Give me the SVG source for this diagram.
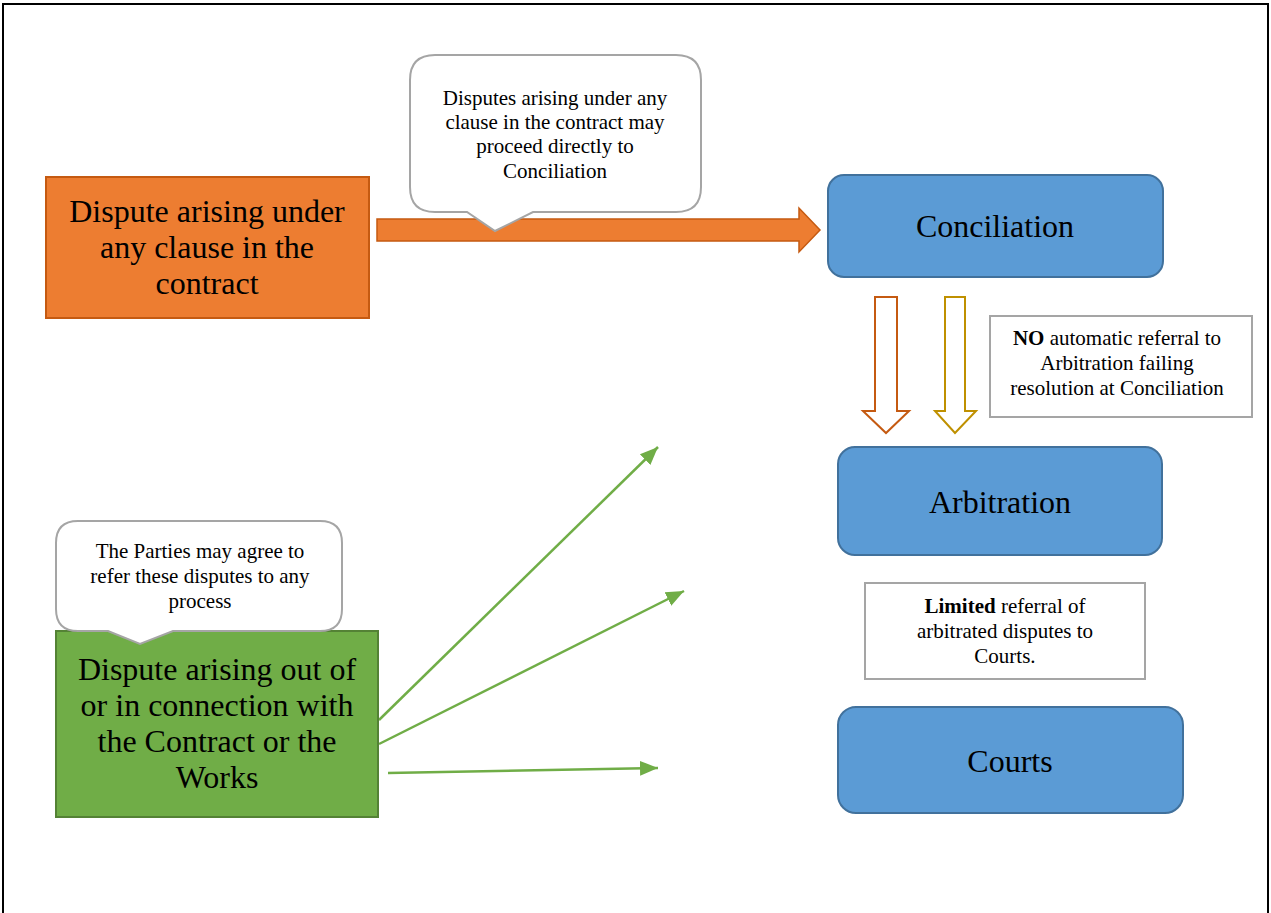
<svg xmlns="http://www.w3.org/2000/svg" width="1271" height="913" viewBox="0 0 1271 913">
<style>
.t{font-family:"Liberation Serif","Times New Roman",serif;fill:#000;text-anchor:middle}
.big{font-size:32px}
.mid{font-size:32px}
.sm{font-size:21px}
.blue{fill:#5B9BD5;stroke:#41719C;stroke-width:2}
.note{fill:#fff;stroke:#A5A5A5;stroke-width:2}
.conn{stroke:#70AD47;stroke-width:2.5;fill:none;marker-end:url(#ah)}
</style>
<defs>
<marker id="ah" markerUnits="userSpaceOnUse" markerWidth="20" markerHeight="20" viewBox="0 0 20 20" refX="18" refY="10" orient="auto">
<path d="M0,2.5 L18,10 L0,17.5 Z" fill="#70AD47"/>
</marker>
</defs>
<rect width="1271" height="913" fill="#fff"/>
<g id="frame" fill="none" stroke="#000">
<path d="M3,913 V4 H1268 V913" stroke-width="2"/>
</g>
<g id="connectors">
<path id="orange-arrow" d="M377,219 H799 V208 L820,230 L799,252 V241 H377 Z" fill="#ED7D31" stroke="#C55A11" stroke-width="1.5"/>
<path id="down-arrow-1" d="M875,297 H897 V411 H909 L886,433 L863,411 H875 Z" fill="#fff" stroke="#C55A11" stroke-width="2"/>
<path id="down-arrow-2" d="M945,297 H965 V411 H976 L955,433 L935,411 H945 Z" fill="#fff" stroke="#BF9000" stroke-width="2"/>
<line class="conn" x1="379" y1="720" x2="658" y2="447"/>
<line class="conn" x1="379" y1="744" x2="684" y2="591"/>
<line class="conn" x1="388" y1="773" x2="658" y2="768"/>
</g>
<g id="node-orange">
<rect x="46" y="177" width="323" height="141" fill="#ED7D31" stroke="#C55A11" stroke-width="2"/>
<text class="t big" x="207" y="222">Dispute arising under</text>
<text class="t big" x="207" y="258">any clause in the</text>
<text class="t big" x="207" y="294">contract</text>
</g>
<g id="callout-1">
<path class="note" d="M435,55 H676 Q701,55 701,80 V187 Q701,212 676,212 H533 L495,231 L467,212 H435 Q410,212 410,187 V80 Q410,55 435,55 Z"/>
<text class="t sm" x="555" y="105">Disputes arising under any</text>
<text class="t sm" x="555" y="129">clause in the contract may</text>
<text class="t sm" x="555" y="153">proceed directly to</text>
<text class="t sm" x="555" y="178">Conciliation</text>
</g>
<g id="node-conciliation">
<rect class="blue" x="828" y="175" width="335" height="102" rx="16"/>
<text class="t mid" x="995" y="237">Conciliation</text>
</g>
<g id="note-no">
<rect class="note" x="990" y="316" width="262" height="101"/>
<text class="t sm" x="1117" y="345"><tspan font-weight="bold">NO</tspan> automatic referral to</text>
<text class="t sm" x="1117" y="370">Arbitration failing</text>
<text class="t sm" x="1117" y="395">resolution at Conciliation</text>
</g>
<g id="node-arbitration">
<rect class="blue" x="838" y="447" width="324" height="108" rx="17"/>
<text class="t mid" x="1000" y="513">Arbitration</text>
</g>
<g id="note-limited">
<rect class="note" x="865" y="583" width="280" height="96"/>
<text class="t sm" x="1005" y="613"><tspan font-weight="bold">Limited</tspan> referral of</text>
<text class="t sm" x="1005" y="638">arbitrated disputes to</text>
<text class="t sm" x="1005" y="663">Courts.</text>
</g>
<g id="node-courts">
<rect class="blue" x="838" y="707" width="345" height="106" rx="18"/>
<text class="t mid" x="1010" y="772">Courts</text>
</g>
<g id="node-green">
<rect x="56" y="631" width="322" height="186" fill="#70AD47" stroke="#548235" stroke-width="2"/>
<text class="t big" x="217" y="680">Dispute arising out of</text>
<text class="t big" x="217" y="716">or in connection with</text>
<text class="t big" x="217" y="752">the Contract or the</text>
<text class="t big" x="217" y="788">Works</text>
</g>
<g id="callout-2">
<path class="note" d="M78,521 H320 Q342,521 342,543 V609 Q342,631 320,631 H173 L140,644 L108,631 H78 Q56,631 56,609 V543 Q56,521 78,521 Z"/>
<text class="t sm" x="200" y="558">The Parties may agree to</text>
<text class="t sm" x="200" y="583">refer these disputes to any</text>
<text class="t sm" x="200" y="608">process</text>
</g>
</svg>
